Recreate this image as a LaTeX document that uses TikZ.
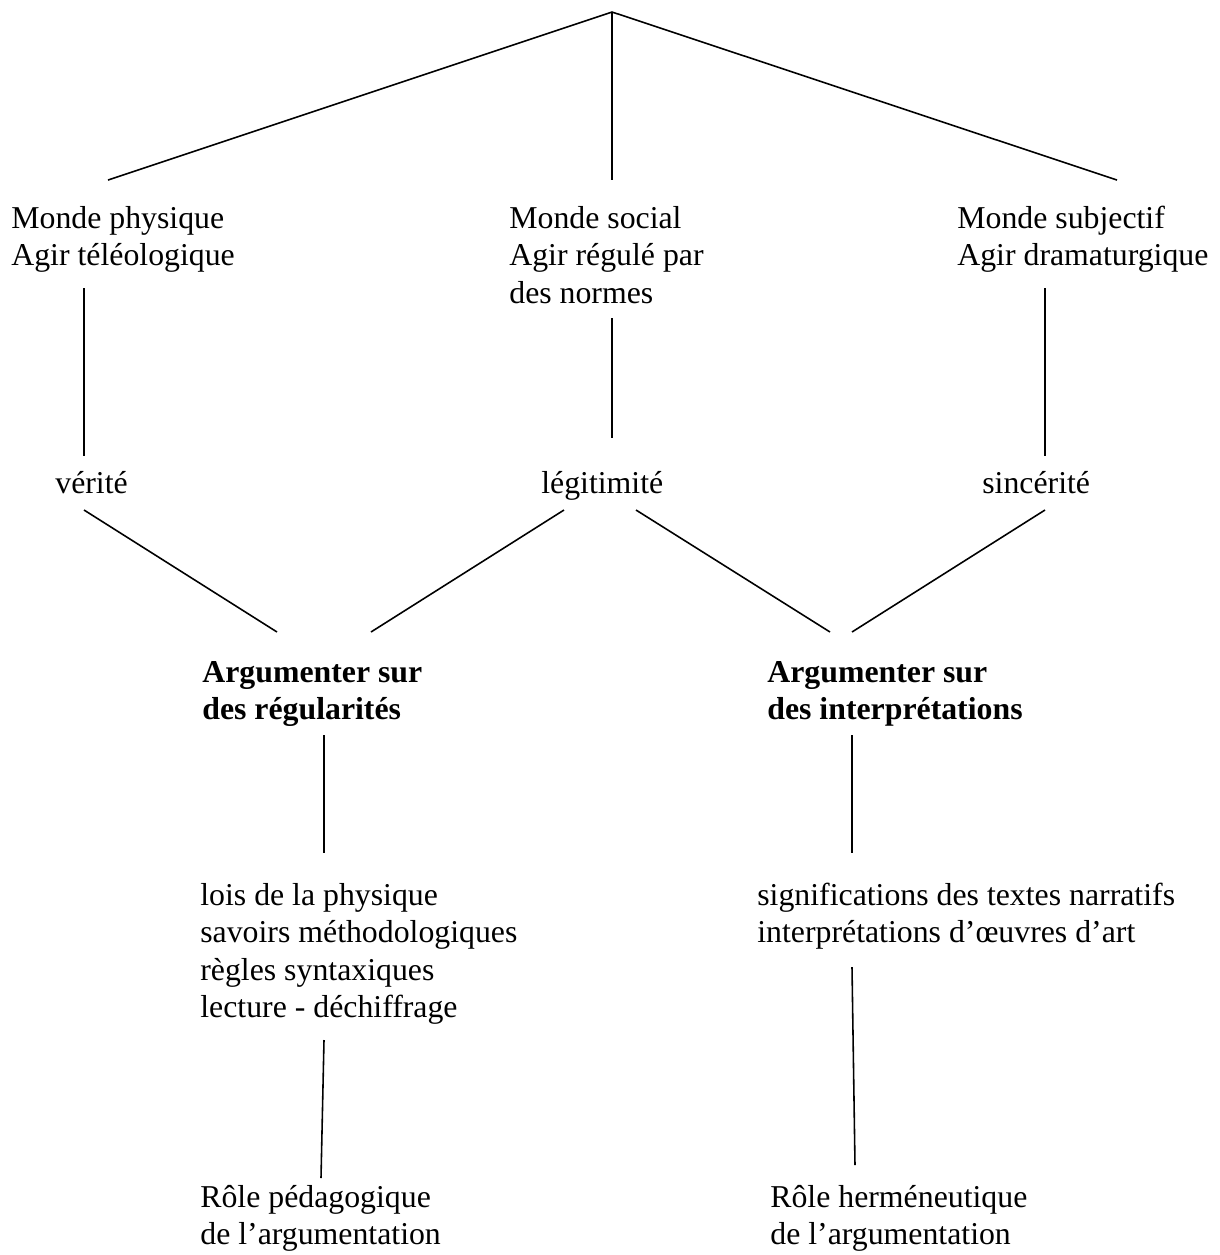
\documentclass[tikz,border=0pt]{standalone}
\usepackage{fontspec}
\setmainfont{Liberation Serif}
\begin{document}
\begin{tikzpicture}[x=0.02cm,y=-0.02cm,
        lbl/.style={anchor=north west,inner sep=0pt,align=left,font=\fontsize{18.1}{21.3}\selectfont},
        lblbf/.style={lbl,font=\fontsize{18.1}{21.3}\selectfont\bfseries},
        word/.style={anchor=base west,inner sep=0pt,font=\fontsize{18.1}{21.3}\selectfont},
        link/.style={line width=0.9pt}]
            \useasboundingbox (0,0) rectangle (1220,1255);
            % mondes
            \node[lbl] (physique) at (11,201.7) {\strut Monde physique\\Agir téléologique};
            \node[lbl] (social) at (509,201.7) {\strut Monde social\\Agir régulé par\\des normes};
            \node[lbl] (subjectif) at (957,201.7) {\strut Monde subjectif\\Agir dramaturgique};
            % validite
            \node[word] (verite) at (55,493) {vérité};
            \node[word] (legitimite) at (541,493) {légitimité};
            \node[word] (sincerite) at (982,493) {sincérité};
            % argumenter
            \node[lblbf] (regularites) at (202,655.7) {\strut Argumenter sur\\des régularités};
            \node[lblbf] (interpretations) at (767,655.7) {\strut Argumenter sur\\des interprétations};
            \node[lbl] (savoirs) at (200,878.7) {\strut lois de la physique\\savoirs méthodologiques\\règles syntaxiques\\lecture - déchiffrage};
            \node[lbl] (significations) at (757,878.7) {\strut significations des textes narratifs\\interprétations d’œuvres d’art};
            \node[lbl] (pedagogique) at (200,1180.7) {\strut Rôle pédagogique\\de l’argumentation};
            \node[lbl] (hermeneutique) at (770,1180.7) {\strut Rôle herméneutique\\de l’argumentation};
            % points
            \coordinate (apex) at (612,12);
            \coordinate (phys-t) at (108,180);
            \coordinate (soc-t) at (612,180);
            \coordinate (subj-t) at (1117,180);
            \coordinate (phys-b) at (84,288);
            \coordinate (ver-t) at (84,456);
            \coordinate (soc-b) at (612,318);
            \coordinate (leg-t) at (612,438);
            \coordinate (subj-b) at (1045,288);
            \coordinate (sin-t) at (1045,456);
            \coordinate (ver-b) at (84,510);
            \coordinate (leg-bl) at (564,510);
            \coordinate (leg-br) at (636,510);
            \coordinate (sin-b) at (1045,510);
            \coordinate (reg-t1) at (277,632);
            \coordinate (reg-t2) at (371,632);
            \coordinate (int-t1) at (830,632);
            \coordinate (int-t2) at (852,632);
            \coordinate (reg-b) at (324,735);
            \coordinate (sav-t) at (324,853);
            \coordinate (int-b) at (852,735);
            \coordinate (sig-t) at (852,853);
            \coordinate (sav-b) at (324,1040);
            \coordinate (ped-t) at (321,1178);
            \coordinate (sig-b) at (852,967);
            \coordinate (her-t) at (855,1165);
            % lignes
            \draw[link] (phys-t) -- (apex) -- (subj-t);
            \draw[link] (apex) -- (soc-t);
            \draw[link] (phys-b) -- (ver-t);
            \draw[link] (soc-b) -- (leg-t);
            \draw[link] (subj-b) -- (sin-t);
            \draw[link] (ver-b) -- (reg-t1);
            \draw[link] (leg-bl) -- (reg-t2);
            \draw[link] (leg-br) -- (int-t1);
            \draw[link] (sin-b) -- (int-t2);
            \draw[link] (reg-b) -- (sav-t);
            \draw[link] (int-b) -- (sig-t);
            \draw[link] (sav-b) -- (ped-t);
            \draw[link] (sig-b) -- (her-t);
\end{tikzpicture}
\end{document}
